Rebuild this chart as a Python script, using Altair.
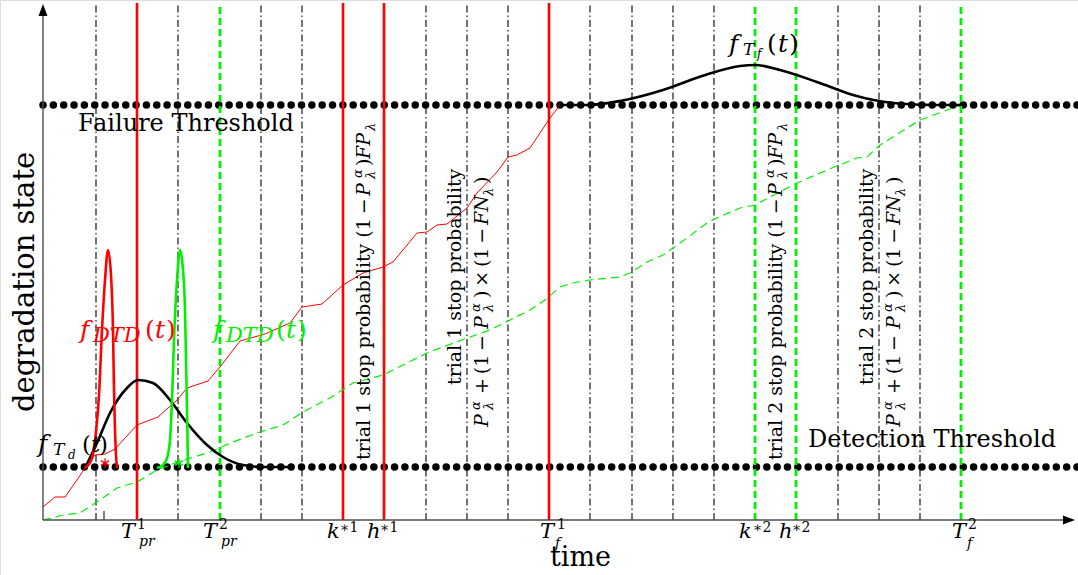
import altair as alt
import pandas as pd

# ---------------- chart values ----------------
# time is measured from the origin of the axes, degradation upward from the time axis
grid_times = [53, 135, 218, 259, 383, 424, 465, 547, 589, 630, 671, 795, 836, 877]
trial1_times = [94, 300, 341, 506]   # T_pr^1, k*1, h*1, T_f^1
trial2_times = [177, 712, 753, 918]  # T_pr^2, k*2, h*2, T_f^2
failure_level = 415
detection_level = 53
time_end = 1035
axis_time_end = 1022
axis_state_end = 508

# trial 1 degradation path (solid red)
path1_t = [0, 12, 22, 34, 42, 52, 62, 72, 94, 115, 134, 144, 165, 177, 197, 222, 247, 259, 279, 300,
           320, 340, 350, 374, 384, 394, 404, 424, 434, 454, 465, 474, 487, 507, 517]
path1_d = [13, 23, 23, 40, 52, 65, 66, 71, 95, 103, 120, 132, 139, 153, 179, 186, 197, 213, 216, 235,
           247, 253, 258, 287, 288, 295, 296, 312, 327, 348, 363, 365, 372, 402, 415]
# trial 2 degradation path (dashed green)
path2_t = [0, 20, 37, 57, 74, 94, 114, 135, 167, 190, 214, 240, 260, 287, 310, 340, 384, 424, 447, 467,
           487, 502, 517, 530, 547, 577, 589, 604, 620, 630, 644, 664, 674, 697, 712, 727, 754, 784, 814, 824,
           837, 877, 918]
path2_d = [0, 5, 7, 20, 32, 38, 50, 58, 68, 78, 87, 95, 108, 122, 137, 145, 167, 182, 190, 200,
           210, 220, 233, 237, 240, 243, 248, 258, 265, 272, 282, 297, 302, 312, 315, 323, 337, 350, 362, 363,
           375, 400, 415]
# density of detection time f_Td(t)
fTd_t = [42, 54, 67, 84, 95, 110, 127, 144, 164, 180, 200, 220, 250]
fTd_d = [52, 77, 107, 132, 140, 137, 120, 97, 75, 63, 55, 53, 53]
# densities f_DTD(t) for both trials
fdtd1_t = [42, 49, 53, 56, 59, 62, 65, 68, 70, 71, 72, 73, 74]
fdtd1_d = [52, 62, 88, 125, 190, 240, 270, 245, 190, 130, 90, 65, 52]
fdtd2_t = [114, 120, 124, 127, 129, 131, 134, 137, 140, 142, 143, 144, 145]
fdtd2_d = [52, 55, 62, 80, 120, 180, 240, 270, 250, 210, 160, 110, 52]
# density of failure time f_Tf(t)
fTf_t = [517, 544, 577, 620, 659, 697, 712, 737, 774, 810, 850, 890, 918]
fTf_d = [415, 415, 419, 430, 444, 454, 455, 450, 438, 425, 417, 415, 415]
# detection points
star_t = [62, 136]
star_d = [57, 57]
star_c = ["#ff0000", "#00e600"]

RED = "#ff0000"
GREEN = "#00f000"
FONT = "DejaVu Serif"

xs = alt.Scale(domain=[-43, 1035], nice=False, zero=False)
ys = alt.Scale(domain=[-55, 520], nice=False, zero=False)


def X(f="x"):
    return alt.X(f"{f}:Q", scale=xs, axis=None)


def Y(f="y"):
    return alt.Y(f"{f}:Q", scale=ys, axis=None)


layers = []

# dash-dot grid of inspection times
layers.append(alt.Chart(pd.DataFrame({"x": grid_times, "y": 0, "y2": 515})).mark_rule(
    color="black", strokeWidth=1.1, strokeDash=[7, 3, 1.5, 3]).encode(x=X(), y=Y(), y2="y2:Q"))

# thresholds as rows of big dots
layers.append(alt.Chart(pd.DataFrame({"x": [0, 0], "x2": [time_end, time_end],
                                      "y": [failure_level, detection_level]})).mark_rule(
    color="black", strokeWidth=7.5, strokeCap="round", strokeDash=[0.01, 10.33]).encode(
    x=X(), x2="x2:Q", y=Y()))

# trial 1 marks (red solid) and trial 2 marks (green dashed)
layers.append(alt.Chart(pd.DataFrame({"x": trial1_times, "y": 0, "y2": 517})).mark_rule(
    color=RED, strokeWidth=2.6).encode(x=X(), y=Y(), y2="y2:Q"))
layers.append(alt.Chart(pd.DataFrame({"x": trial2_times, "y": 0, "y2": 515})).mark_rule(
    color=GREEN, strokeWidth=2.8, strokeDash=[7, 4]).encode(x=X(), y=Y(), y2="y2:Q"))


def curve(ts, ds, **kw):
    df = pd.DataFrame({"x": ts, "y": ds, "i": range(len(ts))})
    return alt.Chart(df).mark_line(**kw).encode(x=X(), y=Y(), order="i:Q")


layers.append(curve(path1_t, path1_d, color=RED, strokeWidth=1))
layers.append(curve(path2_t, path2_d, color=GREEN, strokeWidth=1.2, strokeDash=[8, 5]))
layers.append(curve(fTd_t, fTd_d, color="black", strokeWidth=2.6, interpolate="monotone"))
layers.append(curve(fdtd1_t, fdtd1_d, color=RED, strokeWidth=2.6, interpolate="monotone"))
layers.append(curve(fdtd2_t, fdtd2_d, color=GREEN, strokeWidth=2.6, interpolate="monotone"))
layers.append(curve(fTf_t, fTf_d, color="black", strokeWidth=2.6, interpolate="monotone"))

# asterisks
layers.append(alt.Chart(pd.DataFrame({"x": star_t, "y": star_d, "c": star_c})).mark_point(
    shape="M 0 -1 L 0 1 M -0.87 -0.5 L 0.87 0.5 M -0.87 0.5 L 0.87 -0.5", size=90,
    filled=False, strokeWidth=1.2, opacity=1).encode(
    x=X(), y=Y(), color=alt.Color("c:N", scale=None)))

# small tick on the time axis
layers.append(alt.Chart(pd.DataFrame({"x": [61], "y": [0], "y2": [9]})).mark_rule(
    color="black", strokeWidth=1).encode(x=X(), y=Y(), y2="y2:Q"))

# axes with arrow heads
layers.append(alt.Chart(pd.DataFrame({"x": [0, 0], "x2": [axis_time_end, 0], "y": [0, 0],
                                      "y2": [0, axis_state_end]})).mark_rule(
    color="#4d4d4d", strokeWidth=1.4).encode(x=X(), x2="x2:Q", y=Y(), y2="y2:Q"))
layers.append(alt.Chart(pd.DataFrame({"x": [1026], "y": [0]})).mark_point(
    shape="M -1 -0.75 L 1 0 L -1 0.75 Z", size=144, filled=True, color="black", opacity=1).encode(
    x=X(), y=Y()))
layers.append(alt.Chart(pd.DataFrame({"x": [0], "y": [510]})).mark_point(
    shape="M -0.75 1 L 0 -1 L 0.75 1 Z", size=144, filled=True, color="black", opacity=1).encode(
    x=X(), y=Y()))

# ---------------- text pieces ----------------
K = "black"
roman = [
    ("Failure Threshold", 35, 389, 24, K, 0),
    ("Detection Threshold", 765, 73, 24, K, 0),
    ("time", 507, -46, 27, K, 0),
    ("degradation state", -9, 108, 29, K, 270),
    ("1", 94, -9, 14, K, 0), ("2", 176, -9, 14, K, 0),
    ("\u22171", 297, -12, 14, K, 0), ("\u22171", 337, -12, 14, K, 0), ("1", 514, -9, 14, K, 0),
    ("\u22172", 710, -12, 14, K, 0), ("\u22172", 749, -12, 14, K, 0), ("2", 925, -9, 14, K, 0),
    ("(", 102, 182, 25, RED, 0), (")", 123, 182, 25, RED, 0),
    ("(", 233, 182, 25, GREEN, 0), (")", 254, 182, 25, GREEN, 0),
    ("(", 39, 68, 23, K, 0), (")", 56, 68, 23, K, 0),
    ("(", 724, 468, 25, K, 0), (")", 746, 468, 25, K, 0),
]
italic = [
    ("T", 78, -18, 21, K, 0), ("pr", 96, -26, 14, K, 0),
    ("T", 160, -18, 21, K, 0), ("pr", 178, -26, 14, K, 0),
    ("k", 284, -18, 21, K, 0), ("h", 324, -18, 21, K, 0),
    ("T", 497, -18, 21, K, 0), ("f", 512, -28, 14, K, 0),
    ("k", 696, -18, 21, K, 0), ("h", 736, -18, 21, K, 0),
    ("T", 909, -18, 21, K, 0), ("f", 924, -28, 14, K, 0),
    ("f", 37, 182, 25, RED, 0), ("DTD", 50, 178, 21, RED, 0), ("t", 112, 182, 25, RED, 0),
    ("f", 170, 182, 25, GREEN, 0), ("DTD", 183, 178, 21, GREEN, 0), ("t", 243, 182, 25, GREEN, 0),
    ("f", -5, 68, 25, K, 0), ("T", 10, 65, 17, K, 0), ("d", 25, 61, 12, K, 0), ("t", 48, 68, 23, K, 0),
    ("f", 686, 468, 25, K, 0), ("T", 700, 465, 17, K, 0), ("f", 714, 462, 12, K, 0), ("t", 735, 468, 25, K, 0),
]

TS = "\u2009"
for n, dx in (("1", 0), ("2", 412)):
    roman += [
        (f"trial {n} stop probability (1{TS}\u2212{TS}", 327 + dx, 60, 19, K, 270),
        (")", 327 + dx, 354, 19, K, 270),
        (f"trial {n} stop probability", 418 + dx, 135, 19, K, 270),
        (f"+{TS}(1{TS}\u2212{TS}", 445 + dx, 126, 19, K, 270),
        (f"){TS}\u00d7{TS}(1{TS}\u2212{TS}", 445 + dx, 222, 19, K, 270),
        (")", 445 + dx, 336, 19, K, 270),
    ]
    italic += [
        ("P", 327 + dx, 324, 19, K, 270),
        ("\u03b1", 319 + dx, 342, 13, K, 270),
        ("\u03bb", 332 + dx, 341, 13, K, 270),
        ("FP", 327 + dx, 361, 19, K, 270),
        ("\u03bb", 332 + dx, 389, 13, K, 270),
        ("P", 445 + dx, 93, 19, K, 270),
        ("\u03b1", 437 + dx, 110, 13, K, 270),
        ("\u03bb", 450 + dx, 110, 13, K, 270),
        ("P", 445 + dx, 191, 19, K, 270),
        ("\u03b1", 437 + dx, 208, 13, K, 270),
        ("\u03bb", 450 + dx, 208, 13, K, 270),
        ("FN", 445 + dx, 295, 19, K, 270),
        ("\u03bb", 450 + dx, 324, 13, K, 270),
    ]

cols = ["txt", "x", "y", "fs", "col", "ang"]
for rows, style in ((roman, "normal"), (italic, "italic")):
    layers.append(alt.Chart(pd.DataFrame(rows, columns=cols)).mark_text(
        font=FONT, fontStyle=style, align="left", baseline="alphabetic").encode(
        x=X(), y=Y(), text="txt:N", size=alt.Size("fs:Q", scale=None),
        color=alt.Color("col:N", scale=None), angle=alt.Angle("ang:Q", scale=None)))

chart = alt.layer(*layers).properties(
    width=1078, height=575, autosize=alt.AutoSizeParams(type="none"), padding=0
).configure_view(strokeWidth=0).configure(background="white")

chart.save("out.html", embed_options={"renderer": "svg", "actions": False})
